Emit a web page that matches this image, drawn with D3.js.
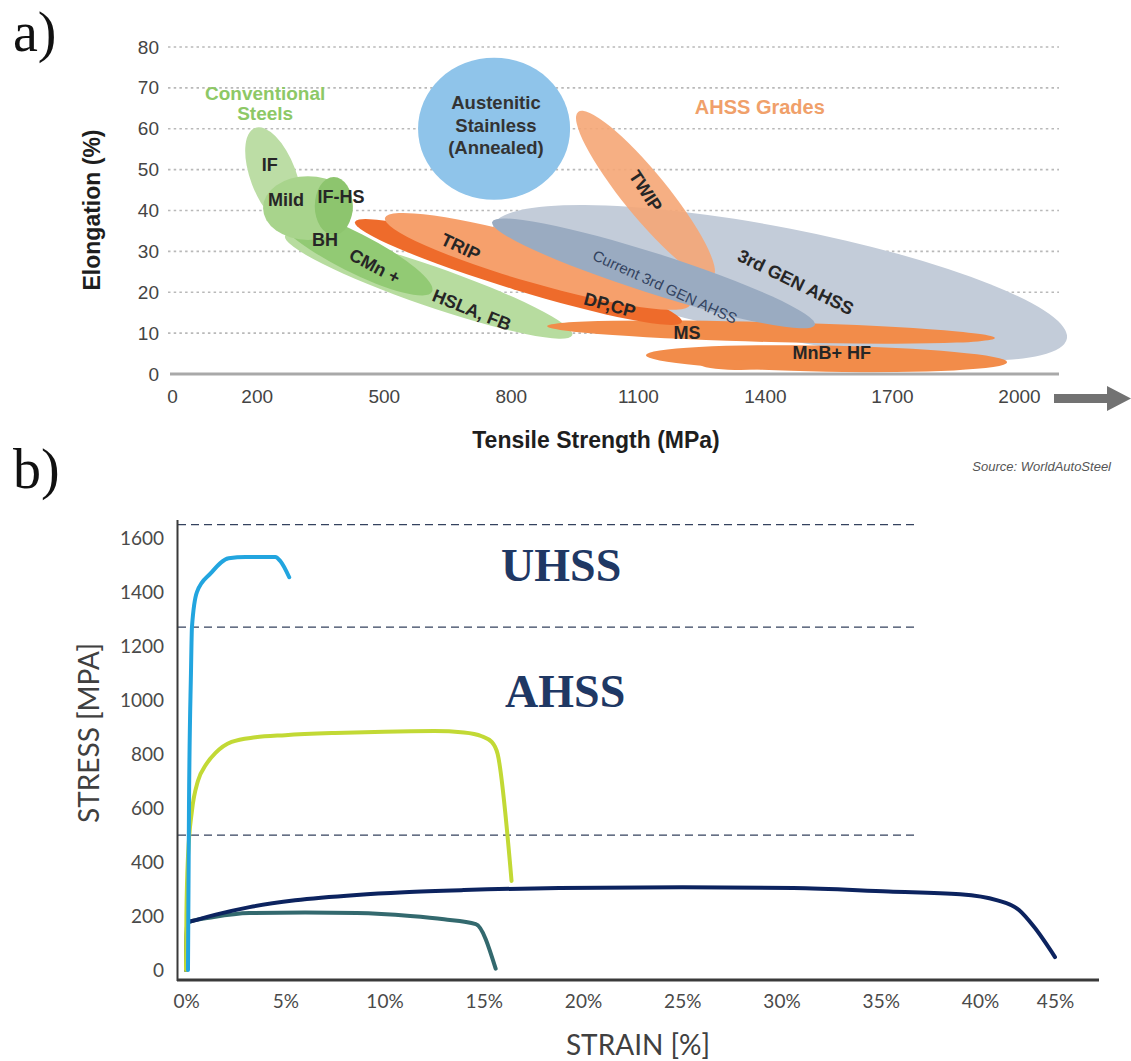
<!DOCTYPE html>
<html>
<head>
<meta charset="utf-8">
<script src="https://cdn.jsdelivr.net/npm/d3@7"></script>
<style>
  body { margin: 0; background: #fff; }
  svg { display: block; }
</style>
</head>
<body>
<svg id="fig" width="1131" height="1061"></svg>
<script>
// ================= Panel a: elongation vs tensile strength =================
const strengthTicks = [0, 200, 500, 800, 1100, 1400, 1700, 2000];
const elongationTicks = [0, 10, 20, 30, 40, 50, 60, 70, 80];

// Steel families, back to front. Each is an ellipse given by the two ends of its
// long axis (tensile strength in MPa, elongation in %) and a half-width in % elongation.
const familyNames      = ["Austenitic", "3rdGen", "TWIP", "HSLA", "CMn", "IF", "Mild", "IFHS", "MS", "MnB", "MnBTail", "DPCP", "TRIP", "Current3rdGen"];
const familyStartMPa   = [581,  758,  959,  267,  243,  196,  215,  382,  886, 1119, 1247,  432,  503,  756];
const familyStartElong = [60.0, 36.0, 64.1, 33.8, 39.6, 60.2, 40.6, 48.2, 11.7,  4.6,  2.4, 37.2, 38.2, 37.2];
const familyEndMPa     = [940, 2113, 1277,  945,  614,  283,  427,  382, 1943, 1972, 1412, 1204, 1223, 1518];
const familyEndElong   = [60.0,  8.6, 23.7,  9.5, 20.1, 36.5, 40.6, 34.0,  8.8,  2.9,  2.0, 12.7, 16.9, 12.0];
const familyHalfWidth  = [17.4, 13.5,  5.4,  4.9,  4.8,  5.6,  7.8,  4.65, 2.45, 3.2,  1.2,  4.4,  5.4,  4.9];

const familyColor = {
  Austenitic: "#8fc4ea", "3rdGen": "#c3ccd9", TWIP: "#f5a676", HSLA: "#b7dc9f",
  CMn: "#92ca74", IF: "#bcdda5", Mild: "#a8d48c", IFHS: "#8dc56e",
  MS: "#f28c4a", MnB: "#f28c4a", MnBTail: "#f28c4a", DPCP: "#ee6b2b",
  TRIP: "#f6a06c", Current3rdGen: "#9aabc1"
};

// Family labels: text, anchor (MPa, %), rotation in degrees
const familyLabels = [
  { text: "IF",        mpa: 231,  el: 51.1, rot: 0 },
  { text: "Mild",      mpa: 269,  el: 42.6, rot: 0 },
  { text: "IF-HS",     mpa: 399,  el: 43.5, rot: 0 },
  { text: "BH",        mpa: 361,  el: 32.8, rot: 0 },
  { text: "CMn +",     mpa: 479,  el: 26.4, rot: 28 },
  { text: "HSLA, FB",  mpa: 708,  el: 15.7, rot: 22 },
  { text: "TRIP",      mpa: 682,  el: 31.1, rot: 25 },
  { text: "DP,CP",     mpa: 1034, el: 16.9, rot: 15 },
  { text: "MS",        mpa: 1216, el: 10.0, rot: 0 },
  { text: "MnB+ HF",   mpa: 1558, el: 5.1,  rot: 0 },
  { text: "TWIP",      mpa: 1119, el: 44.8, rot: 57 },
  { text: "3rd GEN AHSS", mpa: 1473, el: 22.5, rot: 26 }
];

// ================= Panel b: engineering stress-strain curves =================
const strainTicks = [0, 5, 10, 15, 20, 25, 30, 35, 40, 45];
const stressTicks = [0, 200, 400, 600, 800, 1000, 1200, 1400, 1600];
const gradeBoundaries = [500, 1270, 1650];   // MPa

// [strain %, stress MPa]
const uhssCurve = [[0.1, 0], [0.15, 600], [0.25, 1100], [0.3, 1270], [0.55, 1400], [1.25, 1470],
                   [2.15, 1525], [3.0, 1530], [4.5, 1530], [4.75, 1515], [5.2, 1455]];
const ahssCurve = [[0.0, 0], [0.02, 200], [0.1, 420], [0.3, 590], [0.6, 700], [1.0, 760], [1.5, 805],
                   [2.3, 845], [3.5, 862], [5.0, 870], [7.5, 878], [10.0, 883], [12.5, 885], [14.0, 880],
                   [14.9, 866], [15.4, 845], [15.7, 800], [16.4, 330]];
const mildCurve = [[0.0, 0], [0.05, 175], [0.5, 185], [1.5, 205], [3.2, 233], [5.5, 258], [8.6, 278],
                   [11.0, 288], [14.0, 296], [18.8, 304], [25.0, 307], [30.6, 304], [35.4, 291],
                   [39.0, 281], [41.1, 259], [42.6, 222], [43.6, 160], [45.0, 48]];
const hslaCurve = [[0.0, 0], [0.05, 175], [1.4, 196], [3.2, 211], [6.0, 213], [8.6, 211], [11.3, 200],
                   [13.0, 188], [14.6, 170], [15.6, 5]];

const gradeLabels = [
  { text: "UHSS", strain: 18.9, stress: 1441 },
  { text: "AHSS", strain: 19.1, stress: 974 }
];

// ---------------------------------------------------------------------------
const svg = d3.select("#fig");
svg.append("rect").attr("width", 1131).attr("height", 1061).attr("fill", "#fff");
const plain = d3.format("d");

// ---------- panel a ----------
const xA = d3.scaleLinear().domain([0, 2000]).range([172, 1019]);
const yA = d3.scaleLinear().domain([0, 80]).range([374, 47]);
const pxPerPct = yA(0) - yA(1);
const gA = svg.append("g").attr("font-family", "'Liberation Sans', Arial, sans-serif");

gA.append("text").attr("x", 13).attr("y", 51)
  .attr("font-family", "'Liberation Serif', 'Times New Roman', serif")
  .attr("font-size", 56).attr("fill", "#111").text("a)");

// dotted gridlines
gA.append("g").selectAll("line").data(elongationTicks.filter(v => v > 0)).join("line")
  .attr("x1", 168).attr("x2", 1059)
  .attr("y1", d => yA(d)).attr("y2", d => yA(d))
  .attr("stroke", "#b9b9b9").attr("stroke-width", 1.6).attr("stroke-dasharray", "2.5,3.2");

// ellipses
const fam = familyNames.map((n, i) => ({
  name: n,
  p1: [xA(familyStartMPa[i]), yA(familyStartElong[i])],
  p2: [xA(familyEndMPa[i]), yA(familyEndElong[i])],
  hw: familyHalfWidth[i]
}));
gA.append("g").selectAll("ellipse").data(fam).join("ellipse")
  .attr("rx", d => Math.hypot(d.p2[0] - d.p1[0], d.p2[1] - d.p1[1]) / 2)
  .attr("ry", d => d.hw * pxPerPct)
  .attr("transform", d => {
    const cx = (d.p1[0] + d.p2[0]) / 2, cy = (d.p1[1] + d.p2[1]) / 2;
    const ang = Math.atan2(d.p2[1] - d.p1[1], d.p2[0] - d.p1[0]) * 180 / Math.PI;
    return `translate(${cx},${cy}) rotate(${ang})`;
  })
  .attr("fill", d => familyColor[d.name])
  .attr("fill-opacity", d => d.name === "TWIP" ? 0.9 : 1);

// base axis line and arrow
gA.append("line").attr("x1", 170).attr("x2", 1059).attr("y1", yA(0)).attr("y2", yA(0))
  .attr("stroke", "#a9a9a9").attr("stroke-width", 3);
gA.append("path")
  .attr("d", "M1054,394 L1107,394 L1107,386 L1131,398.5 L1107,411 L1107,403 L1054,403 Z")
  .attr("fill", "#727272");

// axes
const axA_x = gA.append("g").attr("transform", `translate(0,${yA(0)})`)
  .call(d3.axisBottom(xA).tickValues(strengthTicks).tickFormat(plain).tickSize(0).tickPadding(16));
const axA_y = gA.append("g").attr("transform", "translate(168,0)")
  .call(d3.axisLeft(yA).tickValues(elongationTicks).tickFormat(plain).tickSize(0).tickPadding(9));
[axA_x, axA_y].forEach(a => {
  a.select(".domain").remove();
  a.selectAll("text").attr("font-family", "'Liberation Sans', Arial, sans-serif")
    .attr("font-size", 19).attr("fill", "#444");
});

gA.append("text").attr("transform", "translate(100,210) rotate(-90)")
  .attr("text-anchor", "middle").attr("font-weight", "bold").attr("font-size", 23)
  .attr("fill", "#1e1e1e").text("Elongation (%)");
gA.append("text").attr("x", 596).attr("y", 448)
  .attr("text-anchor", "middle").attr("font-weight", "bold").attr("font-size", 23)
  .attr("fill", "#1e1e1e").text("Tensile Strength (MPa)");
gA.append("text").attr("x", 1111).attr("y", 471).attr("text-anchor", "end")
  .attr("font-style", "italic").attr("font-size", 13).attr("fill", "#555")
  .text("Source: WorldAutoSteel");

// group headings
gA.append("text").attr("x", xA(220)).attr("y", yA(67.0))
  .attr("text-anchor", "middle").attr("font-weight", "bold").attr("font-size", 19)
  .attr("fill", "#8dc866")
  .selectAll("tspan").data(["Conventional", "Steels"]).join("tspan")
  .attr("x", xA(220)).attr("dy", (d, i) => i ? 20 : 0).text(d => d);
gA.append("text").attr("x", xA(1388)).attr("y", yA(65.3)).attr("dy", "0.35em")
  .attr("text-anchor", "middle").attr("font-weight", "bold").attr("font-size", 20)
  .attr("fill", "#f0a06a").text("AHSS Grades");

gA.append("text").attr("text-anchor", "middle").attr("font-weight", "bold")
  .attr("font-size", 18.5).attr("fill", "#333")
  .selectAll("tspan").data(["Austenitic", "Stainless", "(Annealed)"]).join("tspan")
  .attr("x", xA(765)).attr("y", (d, i) => yA(59.9) - 20 + i * 22.5).text(d => d);

// family labels
gA.append("g").selectAll("text").data(familyLabels).join("text")
  .attr("transform", d => `translate(${xA(d.mpa)},${yA(d.el)}) rotate(${d.rot})`)
  .attr("text-anchor", "middle").attr("dy", "0.35em")
  .attr("font-weight", "bold").attr("font-size", 18).attr("fill", "#262626")
  .text(d => d.text);
gA.append("text")
  .attr("transform", `translate(${xA(1164)},${yA(21.3)}) rotate(24.5)`)
  .attr("text-anchor", "middle").attr("dy", "0.35em")
  .attr("font-size", 15).attr("fill", "#33435f").text("Current 3rd GEN AHSS");

// ---------- panel b ----------
const xB = d3.scaleLinear().domain([0, 40, 45]).range([186, 980, 1055]);
const yB = d3.scaleLinear().domain([0, 1667]).range([970, 520]);
const gB = svg.append("g").attr("font-family", "Lato, 'Open Sans', sans-serif");

gB.append("text").attr("x", 13).attr("y", 488)
  .attr("font-family", "'Liberation Serif', 'Times New Roman', serif")
  .attr("font-size", 56).attr("fill", "#111").text("b)");

gB.append("g").selectAll("line").data(gradeBoundaries).join("line")
  .attr("x1", 178).attr("x2", 915)
  .attr("y1", d => yB(d)).attr("y2", d => yB(d))
  .attr("stroke", "#34425e").attr("stroke-width", 1.2).attr("stroke-dasharray", "8,5");

gB.append("g").selectAll("text").data(gradeLabels).join("text")
  .attr("x", d => xB(d.strain)).attr("y", d => yB(d.stress))
  .attr("text-anchor", "middle")
  .attr("font-family", "'Liberation Serif', 'Times New Roman', serif")
  .attr("font-weight", "bold").attr("font-size", 46).attr("fill", "#1f3864")
  .text(d => d.text);

const line = d3.line().x(d => xB(d[0])).y(d => yB(d[1])).curve(d3.curveMonotoneX);
const curves = [
  { pts: hslaCurve, color: "#33696e" },
  { pts: mildCurve, color: "#0c235f" },
  { pts: ahssCurve, color: "#c2d935" },
  { pts: uhssCurve, color: "#22a5df" }
];
gB.append("g").selectAll("path").data(curves).join("path")
  .attr("d", d => line(d.pts)).attr("fill", "none")
  .attr("stroke", d => d.color).attr("stroke-width", 4)
  .attr("stroke-linecap", "round").attr("stroke-linejoin", "round");

// frame lines
gB.append("line").attr("x1", 177.5).attr("x2", 177.5).attr("y1", 520).attr("y2", 981)
  .attr("stroke", "#3a3a3a").attr("stroke-width", 2);
gB.append("line").attr("x1", 177).attr("x2", 1099).attr("y1", 980).attr("y2", 980)
  .attr("stroke", "#3a3a3a").attr("stroke-width", 3);

const axB_y = gB.append("g").attr("transform", "translate(177.5,0)")
  .call(d3.axisLeft(yB).tickValues(stressTicks).tickFormat(plain).tickSize(0).tickPadding(13.5));
const axB_x = gB.append("g").attr("transform", "translate(0,980)")
  .call(d3.axisBottom(xB).tickValues(strainTicks).tickSize(0).tickPadding(15)
    .tickFormat(d => d + "%"));
[axB_x, axB_y].forEach(a => {
  a.select(".domain").remove();
  a.selectAll("text").attr("font-family", "Lato, 'Open Sans', sans-serif")
    .attr("font-size", 19).attr("fill", "#4a4a4a");
});

gB.append("text").attr("transform", "translate(99,733) rotate(-90)")
  .attr("text-anchor", "middle").attr("font-size", 28).attr("fill", "#404040")
  .text("STRESS [MPA]");
gB.append("text").attr("x", 638).attr("y", 1055)
  .attr("text-anchor", "middle").attr("font-size", 28).attr("fill", "#404040")
  .text("STRAIN [%]");
</script>
</body>
</html>
